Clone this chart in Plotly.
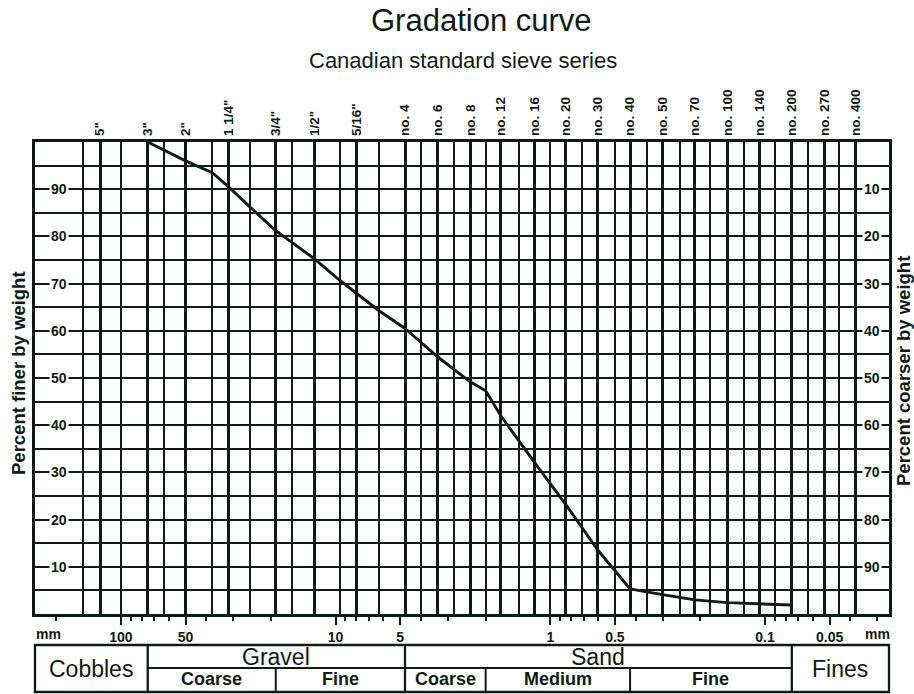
import numpy as np
import plotly.graph_objects as go

# ---------------- data ----------------
# Canadian standard sieve series (mm) - labelled sieves and their labels
sieve_sizes_labeled = [125, 75, 50, 31.5, 19, 12.5, 8, 4.75, 3.35, 2.36, 1.7, 1.18,
                       0.85, 0.6, 0.425, 0.3, 0.212, 0.15, 0.106, 0.075, 0.053, 0.038]
sieve_labels = ['5"', '3"', '2"', '1 1/4"', '3/4"', '1/2"', '5/16"', 'no. 4', 'no. 6',
                'no. 8', 'no. 12', 'no. 16', 'no. 20', 'no. 30', 'no. 40', 'no. 50',
                'no. 70', 'no. 100', 'no. 140', 'no. 200', 'no. 270', 'no. 400']
# intermediate (unlabelled) sieves of the series
sieve_sizes_other = [150, 100, 63, 37.5, 25, 16, 9.5, 6.3, 4.0, 2.8, 2.0, 1.4, 1.0,
                     0.71, 0.5, 0.355, 0.25, 0.18, 0.125, 0.09, 0.063, 0.045]

# grain-size (mm) axis ticks
mm_tick_vals = [100, 50, 10, 5, 1, 0.5, 0.1, 0.05]
mm_tick_text = ['100', '50', '10', '5', '1', '0.5', '0.1', '0.05']
mm_minor_vals = [200, 90, 80, 70, 60, 40, 30, 20, 9, 8, 7, 6, 4, 3, 2,
                 0.9, 0.8, 0.7, 0.6, 0.4, 0.3, 0.2,
                 0.09, 0.08, 0.07, 0.06, 0.04, 0.03]

# percent axis labels
pct_levels = [10, 20, 30, 40, 50, 60, 70, 80, 90]

# gradation curve
grain_size_mm = [75, 50, 37.5, 31.5, 25, 19, 12.5, 9.5, 6.3, 4.75, 3.35, 2.36, 2.0,
                 1.7, 1.18, 0.85, 0.6, 0.425, 0.3, 0.212, 0.15, 0.075]
percent_finer = [100, 96, 93.5, 90.5, 86.2, 81.2, 75.2, 70.6, 64.3, 60.5, 54.5, 49.2, 47.3,
                 42, 32, 23.3, 13.5, 5.3, 4.1, 3.0, 2.4, 1.9]

# soil classification table (mm boundaries)
main_classes = ['Cobbles', 'Gravel', 'Sand', 'Fines']
main_bounds = [75, 4.75, 0.075]
gravel_sub = ['Coarse', 'Fine']
gravel_sub_bounds = [75, 19, 4.75]
sand_sub = ['Coarse', 'Medium', 'Fine']
sand_sub_bounds = [4.75, 2.0, 0.425, 0.075]

# ---------------- style ----------------
INK = '#0e1a13'
FONT = 'Liberation Sans, Arial, Helvetica, sans-serif'
X_RANGE = [2.4001, -1.5776]          # log10(mm), coarse on the left
W, H = 914, 694
ML, MR, MT, MB = 35, 25, 142, 80
PW, PH = W - ML - MR, H - MT - MB


def py(pix):
    """pixel row -> paper y"""
    return (H - MB - pix) / PH


def px(pix):
    return (pix - ML) / PW


fig = go.Figure()
fig.add_trace(go.Scatter(x=grain_size_mm, y=percent_finer, mode='lines',
                         line=dict(color=INK, width=2.9), hoverinfo='skip',
                         showlegend=False))
# carrier trace for the sieve axis
fig.add_trace(go.Scatter(x=sieve_sizes_labeled, y=[None] * len(sieve_sizes_labeled),
                         xaxis='x2', mode='lines', hoverinfo='skip', showlegend=False))

fig.update_layout(
    template='none',
    width=W, height=H,
    margin=dict(l=ML, r=MR, t=MT, b=MB, autoexpand=False),
    paper_bgcolor='white', plot_bgcolor='white',
    font=dict(family=FONT, color=INK),
    showlegend=False,
    xaxis=dict(type='log', range=X_RANGE, showgrid=False, zeroline=False, automargin=False,
               showline=True, mirror=True, linecolor=INK, linewidth=2.6,
               ticks='outside', ticklen=8, tickwidth=2, tickcolor=INK,
               tickvals=mm_tick_vals, ticktext=mm_tick_text,
               tickfont=dict(family=FONT, size=14, color=INK, weight='bold'),
               minor=dict(tickvals=mm_minor_vals, ticks='outside', ticklen=4,
                          tickwidth=1.5, tickcolor=INK, showgrid=False)),
    xaxis2=dict(type='log', range=X_RANGE, overlaying='x', side='top', anchor='y',
                automargin=False,
                showgrid=True, gridcolor=INK, gridwidth=2.5, zeroline=False,
                showline=False, ticks='', tickvals=sieve_sizes_labeled,
                ticktext=sieve_labels, tickangle=-90, ticklabelstandoff=5,
                tickfont=dict(family=FONT, size=13.5, color=INK, weight='bold'),
                minor=dict(tickvals=sieve_sizes_other, showgrid=True, gridcolor=INK,
                           gridwidth=2.2, ticks='')),
    yaxis=dict(range=[0, 100], tick0=0, dtick=5, showgrid=True, gridcolor=INK,
               automargin=False,
               gridwidth=2.4, zeroline=False, showticklabels=False, ticks='',
               showline=True, mirror=True, linecolor=INK, linewidth=2.6),
)

C = dict(xanchor='center', yanchor='middle', showarrow=False)
ann = []
# titles
ann.append(dict(text='Gradation curve', x=px(481), y=py(21), xref='paper', yref='paper',
                font=dict(size=31, family=FONT, color=INK), **C))
ann.append(dict(text='Canadian standard sieve series', x=px(463), y=py(61), xref='paper',
                yref='paper', font=dict(size=22, family=FONT, color=INK), **C))
# axis titles
ann.append(dict(text='Percent finer by weight', x=px(18), y=py(373), xref='paper',
                yref='paper', textangle=-90,
                font=dict(size=18.5, family=FONT, color=INK, weight='bold'), **C))
ann.append(dict(text='Percent coarser by weight', x=px(903), y=py(371), xref='paper',
                yref='paper', textangle=-90,
                font=dict(size=18.5, family=FONT, color=INK, weight='bold'), **C))
# in-plot percent labels (white box interrupts the grid line)
for v in pct_levels:
    ann.append(dict(text=str(v), x=px(58.5), y=v, xref='paper', yref='y',
                    bgcolor='white', borderpad=1,
                    font=dict(size=14, family=FONT, color=INK, weight='bold'), **C))
    ann.append(dict(text=str(100 - v), x=px(872), y=v, xref='paper', yref='y',
                    bgcolor='white', borderpad=1,
                    font=dict(size=14, family=FONT, color=INK, weight='bold'), **C))
# mm unit labels
for xp in (48, 877):
    ann.append(dict(text='mm', x=px(xp), y=py(634), xref='paper', yref='paper',
                    font=dict(size=14, family=FONT, color=INK, weight='bold'), **C))

# ---- classification table ----
T_TOP, T_MID, T_BOT = py(645), py(668), py(692)
shapes = [dict(type='rect', xref='paper', yref='paper', x0=0, x1=1, y0=T_BOT, y1=T_TOP,
               line=dict(color=INK, width=2.3))]
for b in main_bounds:
    shapes.append(dict(type='line', xref='x', yref='paper', x0=b, x1=b, y0=T_BOT, y1=T_TOP,
                       line=dict(color=INK, width=2.3)))
shapes.append(dict(type='line', xref='x', yref='paper', x0=main_bounds[0],
                   x1=main_bounds[-1], y0=T_MID, y1=T_MID, line=dict(color=INK, width=2)))
for b in gravel_sub_bounds[1:-1] + sand_sub_bounds[1:-1]:
    shapes.append(dict(type='line', xref='x', yref='paper', x0=b, x1=b, y0=T_BOT, y1=T_MID,
                       line=dict(color=INK, width=2)))

edges = [10 ** X_RANGE[0]] + main_bounds + [10 ** X_RANGE[1]]


def lcenter(a, b):
    return (np.log10(a) + np.log10(b)) / 2


big = dict(size=23, family=FONT, color=INK)
small = dict(size=18, family=FONT, color=INK, weight='bold')
for i, name in enumerate(main_classes):
    xc = lcenter(edges[i], edges[i + 1])
    if name in ('Cobbles', 'Fines'):
        yc = (T_TOP + T_BOT) / 2
    else:
        yc = (T_TOP + T_MID) / 2
    ann.append(dict(text=name, x=xc, y=yc, xref='x', yref='paper', font=big, **C))
for bounds, names in ((gravel_sub_bounds, gravel_sub), (sand_sub_bounds, sand_sub)):
    for i, name in enumerate(names):
        ann.append(dict(text=name, x=lcenter(bounds[i], bounds[i + 1]),
                        y=(T_MID + T_BOT) / 2 + 0.002, xref='x', yref='paper',
                        font=small, **C))

fig.update_layout(annotations=ann, shapes=shapes)
fig.write_html('out.html', config={'displayModeBar': False},
               post_script="document.body.style.margin='0px';"
                           "document.body.style.overflow='hidden';")
